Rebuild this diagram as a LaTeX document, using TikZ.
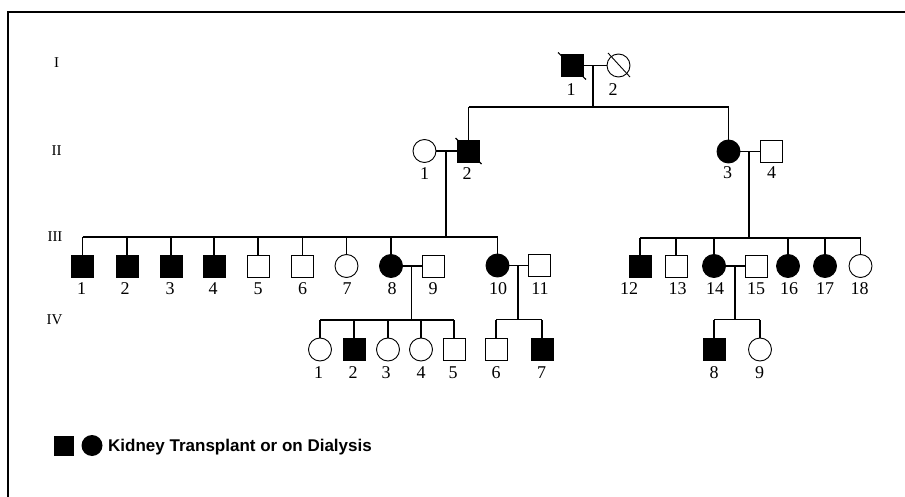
\documentclass[tikz,border=0pt]{standalone}
\usepackage{fontspec}
\setmainfont{Liberation Serif}
\newfontfamily\legfont{Liberation Sans}
\usetikzlibrary{calc}
\begin{document}
\begin{tikzpicture}[x=1pt,y=-1pt,
  ln/.style={line width=1.1pt},
  male/.style={draw, rectangle, minimum size=22pt, inner sep=0pt, line width=0.9pt},
  fem/.style={draw, circle, minimum size=23pt, inner sep=0pt, line width=0.9pt},
  aff/.style={fill=black},
  num/.style={font=\fontsize{18}{18}\selectfont, inner sep=0pt},
  gen/.style={font=\fontsize{15}{15}\selectfont, inner sep=0pt}]
\useasboundingbox (0,0) rectangle (905,497);
\draw[line width=1.2pt] (8,497) -- (8,12) -- (905,12);

% generation labels
\node[gen] (gI)   at (56.5,62.5) {I};
\node[gen] (gII)  at (56.5,151) {II};
\node[gen] (gIII) at (55,237) {III};
\node[gen] (gIV)  at (54.5,320) {IV};

% ---------- Generation I ----------
\node[male,aff] (I1) at (572,65.5) {};
\node[fem] (I2) at (618.5,65.5) {};
\node[num] (lI1) at (571,90) {1};
\node[num] (lI2) at (613,90) {2};
\draw[ln] ($(I1)+(-14,-13)$) -- ($(I1)+(14,14)$);
\draw[line width=0.9pt] ($(I2)+(-10.5,-12.5)$) -- ($(I2)+(11.5,11.5)$);
\coordinate (dI) at (593,65.5);
\coordinate (sIIa) at (468.5,107);
\coordinate (sIIb) at (728.5,107);
\draw[ln] (I1.east) -- (I2.west);
\draw[ln] (dI) -- (dI |- sIIa);
\draw[ln] (sIIa) -- (sIIb);

% ---------- Generation II ----------
\node[fem] (II1) at (424.5,151) {};
\node[male,aff] (II2) at (468.5,151) {};
\node[fem,aff] (II3) at (728.5,151.5) {};
\node[male] (II4) at (771.5,151.5) {};
\node[num] (lII1) at (424.5,174) {1};
\node[num] (lII2) at (467,174) {2};
\node[num] (lII3) at (727.5,173) {3};
\node[num] (lII4) at (771.5,173) {4};
\draw[ln] ($(II2)+(-13,-13)$) -- ($(II2)+(13,13)$);
\draw[ln] (II2.north) -- (sIIa);
\draw[ln] (II3.north) -- (sIIb);
\draw[ln] (II1.east) -- (II2.west);
\draw[ln] (II3.east) -- (II4.west);
\coordinate (dIIa) at (446,151);
\coordinate (dIIb) at (749,151.5);
\coordinate (sIIIa) at (82.5,237);
\coordinate (sIIIb) at (497.5,237);
\coordinate (sIIIc) at (640,238);
\coordinate (sIIId) at (860.5,238);
\draw[ln] (dIIa) -- (dIIa |- sIIIa);
\draw[ln] (dIIb) -- (dIIb |- sIIIc);
\draw[ln] (sIIIa) -- (sIIIb);
\draw[ln] (sIIIc) -- (sIIId);

% ---------- Generation III ----------
\node[male,aff] (III1) at (82.5,266) {};
\node[male,aff] (III2) at (127,266) {};
\node[male,aff] (III3) at (171,266) {};
\node[male,aff] (III4) at (214,266) {};
\node[male] (III5) at (258,266) {};
\node[male] (III6) at (302.5,266) {};
\node[fem] (III7) at (346.5,266) {};
\node[fem,aff] (III8) at (391,266) {};
\node[male] (III9) at (433.5,266) {};
\node[fem,aff] (III10) at (497.5,265.5) {};
\node[male] (III11) at (539.5,265.5) {};
\node[male,aff] (III12) at (640,266) {};
\node[male] (III13) at (676,266) {};
\node[fem,aff] (III14) at (714,266) {};
\node[male] (III15) at (756,266) {};
\node[fem,aff] (III16) at (788,266) {};
\node[fem,aff] (III17) at (825,266) {};
\node[fem] (III18) at (860.5,266) {};
\foreach \n in {1,...,8,10} \draw[ln] (III\n.north) -- (III\n.north |- sIIIa);
\foreach \n in {12,13,14,16,17,18} \draw[ln] (III\n.north) -- (III\n.north |- sIIIc);

\node[num] (lIII1) at (81.5,289) {1};
\node[num] (lIII2) at (125,289) {2};
\node[num] (lIII3) at (170,289) {3};
\node[num] (lIII4) at (213,289) {4};
\node[num] (lIII5) at (258,289) {5};
\node[num] (lIII6) at (302.5,289) {6};
\node[num] (lIII7) at (347,289) {7};
\node[num] (lIII8) at (392,289) {8};
\node[num] (lIII9) at (433,289) {9};
\node[num] (lIII10) at (498,289) {10};
\node[num] (lIII11) at (540,289) {11};
\node[num] (lIII12) at (629,289) {12};
\node[num] (lIII13) at (677.5,289) {13};
\node[num] (lIII14) at (715,289) {14};
\node[num] (lIII15) at (756,289) {15};
\node[num] (lIII16) at (789,289) {16};
\node[num] (lIII17) at (825,289) {17};
\node[num] (lIII18) at (859.5,289) {18};

\draw[ln] (III8.east) -- (III9.west);
\draw[ln] (III10.east) -- (III11.west);
\draw[ln] (III14.east) -- (III15.west);
\coordinate (dIIIa) at (411.7,266);
\coordinate (dIIIb) at (518,265.5);
\coordinate (dIIIc) at (735,266);
\coordinate (sIVa) at (320,320);
\coordinate (sIVb) at (454,320);
\coordinate (sIVc) at (496,319.5);
\coordinate (sIVd) at (542,319.5);
\coordinate (sIVe) at (714,319.5);
\coordinate (sIVf) at (760,319.5);
\draw[ln] (dIIIa) -- (dIIIa |- sIVa);
\draw[ln] (dIIIb) -- (dIIIb |- sIVc);
\draw[ln] (dIIIc) -- (dIIIc |- sIVe);
\draw[ln] (sIVa) -- (sIVb);
\draw[ln] (sIVc) -- (sIVd);
\draw[ln] (sIVe) -- (sIVf);

% ---------- Generation IV ----------
\node[fem] (IV1) at (320,349.5) {};
\node[male,aff] (IV2) at (354,349.5) {};
\node[fem] (IV3) at (388,349.5) {};
\node[fem] (IV4) at (421,349.5) {};
\node[male] (IV5) at (454,349.5) {};
\node[male] (IV6) at (496,349.5) {};
\node[male,aff] (IV7) at (542,349.5) {};
\node[male,aff] (IV8) at (714,349.5) {};
\node[fem] (IV9) at (760,349.5) {};
\foreach \n in {1,...,5} \draw[ln] (IV\n.north) -- (IV\n.north |- sIVa);
\foreach \n in {6,7} \draw[ln] (IV\n.north) -- (IV\n.north |- sIVc);
\foreach \n in {8,9} \draw[ln] (IV\n.north) -- (IV\n.north |- sIVe);

\node[num] (lIV1) at (318.5,373) {1};
\node[num] (lIV2) at (353,373) {2};
\node[num] (lIV3) at (386,373) {3};
\node[num] (lIV4) at (421,373) {4};
\node[num] (lIV5) at (453,373) {5};
\node[num] (lIV6) at (496,373) {6};
\node[num] (lIV7) at (541.5,373) {7};
\node[num] (lIV8) at (714,373) {8};
\node[num] (lIV9) at (759.5,373) {9};

% ---------- Legend ----------
\node[rectangle, fill=black, minimum size=20pt, inner sep=0pt] (legM) at (63.5,445.5) {};
\node[circle, fill=black, minimum size=21pt, inner sep=0pt] (legF) at (92,445.5) {};
\node[anchor=base west, inner sep=0pt, font=\legfont\bfseries\fontsize{17}{17}\selectfont] (legT) at (108,451.5) {Kidney Transplant or on Dialysis};
\end{tikzpicture}
\end{document}
